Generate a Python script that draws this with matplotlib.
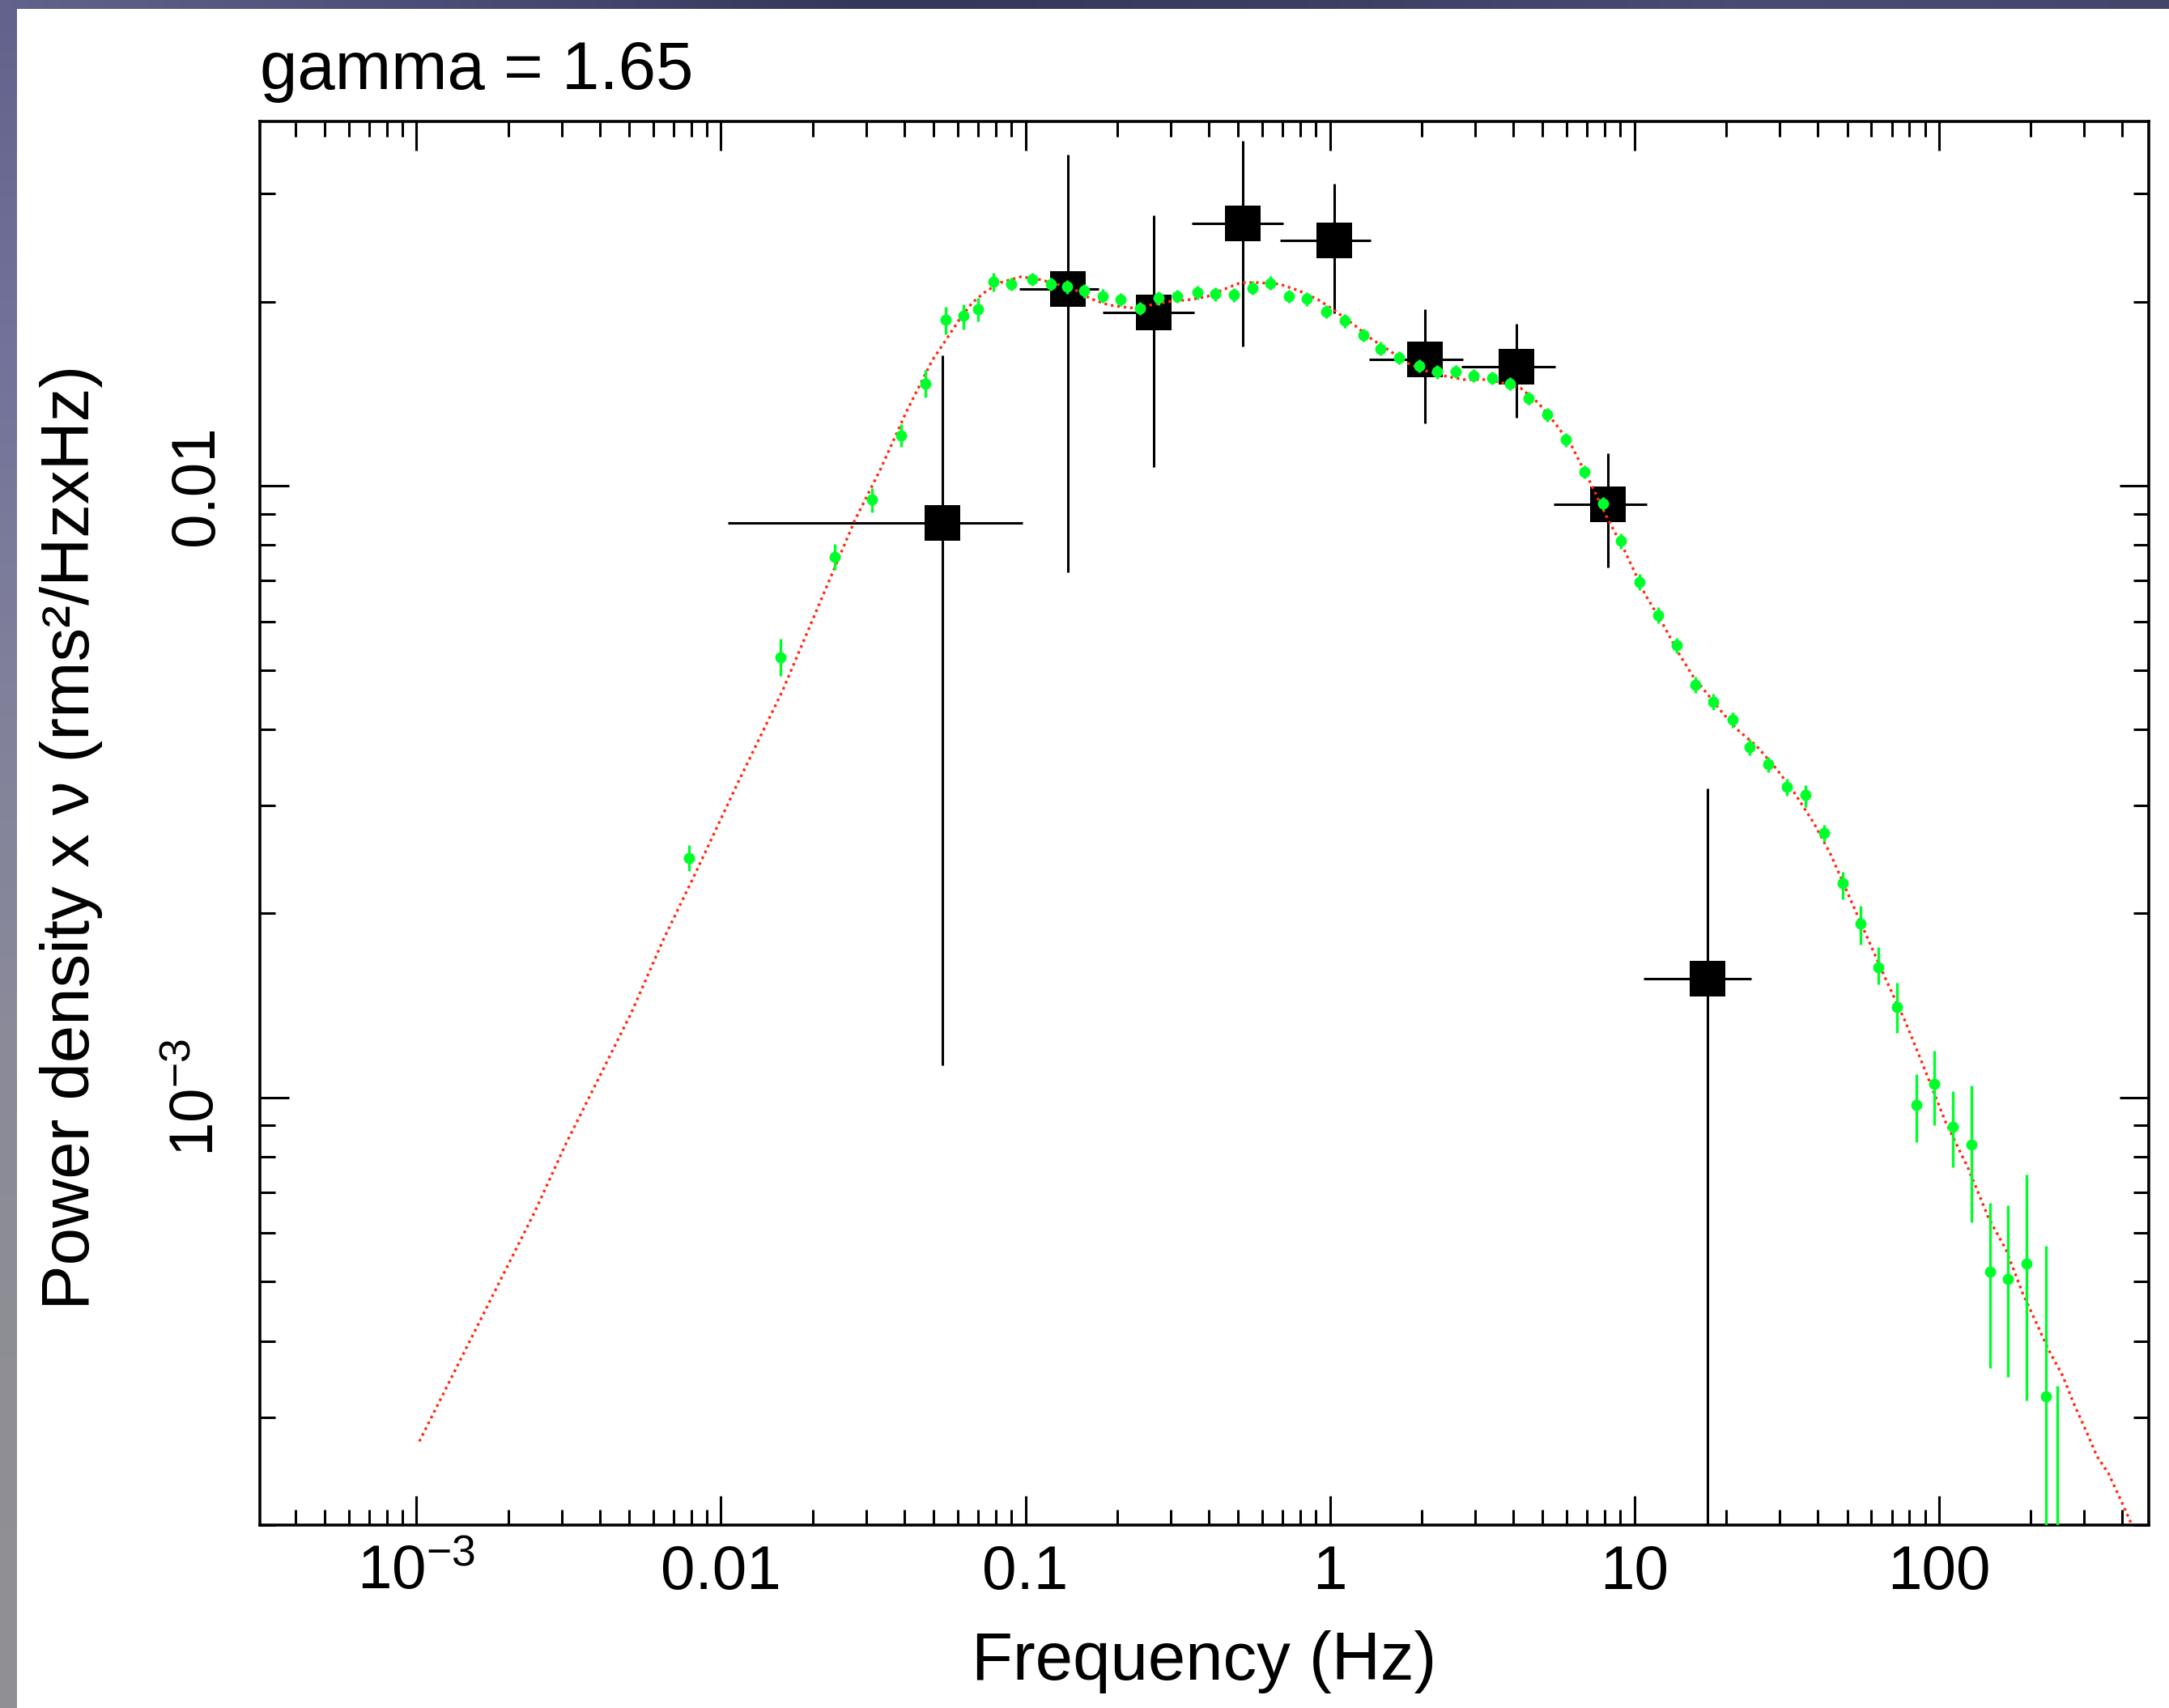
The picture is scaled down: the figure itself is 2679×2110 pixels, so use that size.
import numpy as np
import matplotlib
matplotlib.use("Agg")
import matplotlib.pyplot as plt
from matplotlib.colors import LinearSegmentedColormap
from matplotlib.ticker import NullFormatter

plt.rcParams['font.family'] = ['Liberation Sans', 'DejaVu Sans']
plt.rcParams['mathtext.default'] = 'regular'

# --- data ---
# green points (power density x nu) with error bars
green_f = [0.00787, 0.01566, 0.0236, 0.03136, 0.03915, 0.04702, 0.05477, 0.06264, 0.07007, 0.07836,
           0.08985, 0.1055, 0.1213, 0.1372, 0.1561, 0.1793, 0.2057, 0.2379, 0.2738, 0.315,
           0.3671, 0.4207, 0.4824, 0.5553, 0.6389, 0.7355, 0.8397, 0.9705, 1.117, 1.285,
           1.468, 1.689, 1.96, 2.246, 2.585, 2.965, 3.411, 3.909, 4.5, 5.182,
           5.962, 6.834, 7.868, 9.022, 10.39, 11.96, 13.74, 15.82, 18.16, 20.96,
           23.88, 27.5, 31.65, 36.44, 41.95, 48.31, 55.26, 63.42, 73.04, 84.3,
           96.6, 111.2, 127.8, 147.0, 169.0, 194.5, 224.5, 244.6]
green_p = [0.002462, 0.005248, 0.00766, 0.00949, 0.01209, 0.01468, 0.01868, 0.01897, 0.01945, 0.02158,
           0.02135, 0.02175, 0.02135, 0.02115, 0.02082, 0.02043, 0.02018, 0.0195, 0.02026, 0.02042,
           0.02069, 0.02057, 0.0205, 0.02106, 0.02145, 0.02042, 0.02019, 0.01925, 0.01861, 0.01762,
           0.01676, 0.01618, 0.01571, 0.01535, 0.01537, 0.01514, 0.015, 0.01468, 0.0139, 0.01307,
           0.01188, 0.01054, 0.00935, 0.008122, 0.006956, 0.006144, 0.005483, 0.004732, 0.004437, 0.004143,
           0.003737, 0.003504, 0.003217, 0.003127, 0.002704, 0.002242, 0.001923, 0.001633, 0.001404, 0.000972,
           0.001051, 0.000896, 0.000837, 0.000519, 0.000505, 0.000535, 0.000325, 0.00015]
green_lo = [0.002346, 0.004893, 0.00728, 0.009051, 0.01159, 0.01392, 0.01766, 0.018, 0.01856, 0.02076,
            0.02082, 0.02121, 0.02082, 0.02062, 0.0203, 0.01992, 0.01968, 0.01901, 0.01975, 0.01991,
            0.02017, 0.02006, 0.01999, 0.02053, 0.02091, 0.01991, 0.01969, 0.01877, 0.01814, 0.01718,
            0.01634, 0.01578, 0.01532, 0.01497, 0.01499, 0.01476, 0.01463, 0.01431, 0.01355, 0.01274,
            0.01158, 0.01028, 0.00912, 0.007878, 0.006747, 0.00596, 0.005319, 0.00459, 0.004304, 0.004019,
            0.003625, 0.003399, 0.003112, 0.002981, 0.002618, 0.002111, 0.001778, 0.001529, 0.001276, 0.000844,
            0.000902, 0.000769, 0.000625, 0.000361, 0.000349, 0.00032, 0.00001, 0.00001]
green_hi = [0.002586, 0.005627, 0.008019, 0.009921, 0.01259, 0.01545, 0.0196, 0.01981, 0.02028, 0.0223,
            0.02188, 0.02229, 0.02188, 0.02168, 0.02134, 0.02094, 0.02068, 0.01999, 0.02077, 0.02093,
            0.02121, 0.02108, 0.02101, 0.02159, 0.02199, 0.02093, 0.02069, 0.01973, 0.01908, 0.01806,
            0.01718, 0.01658, 0.0161, 0.01573, 0.01575, 0.01552, 0.01538, 0.01505, 0.01425, 0.0134,
            0.01218, 0.0108, 0.00958, 0.008366, 0.007165, 0.006328, 0.005647, 0.004874, 0.00457, 0.004267,
            0.003849, 0.003609, 0.003317, 0.00324, 0.002789, 0.00234, 0.002058, 0.001762, 0.00154, 0.001092,
            0.001192, 0.001024, 0.001046, 0.000672, 0.000666, 0.000748, 0.000572, 0.000338]

# black squares
sq_f = [0.0533, 0.1382, 0.2637, 0.5173, 1.035, 2.053, 4.096, 8.17, 17.41]
sq_p = [0.00869, 0.02094, 0.01919, 0.02685, 0.02514, 0.01609, 0.01565, 0.00933, 0.001565]
sq_flo = [0.01051, 0.0954, 0.179, 0.3515, 0.6855, 1.341, 2.698, 5.42, 10.71]
sq_fhi = [0.0977, 0.174, 0.358, 0.702, 1.361, 2.731, 5.492, 10.97, 24.17]
sq_plo = [0.00113, 0.00721, 0.01072, 0.01689, 0.01914, 0.01263, 0.0129, 0.00736, 0.00001]
sq_phi = [0.01633, 0.0348, 0.02766, 0.0366, 0.03114, 0.01943, 0.01839, 0.01131, 0.0032]

# red dotted model
model_f = [0.001022, 0.002438, 0.003096, 0.00393, 0.005093, 0.006454, 0.0082, 0.01132, 0.01592, 0.02751,
           0.0335, 0.04067, 0.04952, 0.05495, 0.06077, 0.06687, 0.07421, 0.08277, 0.09674, 0.1118,
           0.143, 0.1639, 0.1879, 0.2214, 0.2572, 0.3007, 0.3448, 0.3951, 0.4532, 0.5093,
           0.5839, 0.683, 0.7937, 0.9155, 1.035, 1.206, 1.377, 1.573, 1.778, 2.072,
           2.415, 2.756, 3.212, 3.631, 4.231, 4.832, 5.462, 6.173, 7.164, 8.017,
           9.303, 10.84, 12.33, 14.05, 15.65, 17.4, 19.01, 21.61, 25.19, 29.28,
           33.38, 38.81, 44.14, 51.44, 66.48, 77.37, 88.22, 104.9, 125.1, 145.7,
           166.1, 188.3, 209.9, 229.1, 254.9, 278.1, 303.6, 330.7, 360.4, 393.6, 428.8]
model_p = [0.000274, 0.000648, 0.00084, 0.001065, 0.00138, 0.001807, 0.002313, 0.003256, 0.004619, 0.008777,
           0.01067, 0.01322, 0.01606, 0.01734, 0.01871, 0.01991, 0.02079, 0.02148, 0.02196, 0.02172,
           0.02102, 0.02021, 0.01974, 0.01953, 0.01974, 0.02002, 0.02014, 0.02038, 0.02098, 0.02148,
           0.02148, 0.02136, 0.02082, 0.02014, 0.01935, 0.01829, 0.01734, 0.01662, 0.0159, 0.0154,
           0.01509, 0.01491, 0.01491, 0.01476, 0.01444, 0.01366, 0.01269, 0.0117, 0.01012, 0.008996,
           0.007815, 0.006645, 0.005973, 0.005302, 0.004862, 0.004561, 0.004314, 0.004007, 0.003755, 0.003444,
           0.003159, 0.002811, 0.002495, 0.002098, 0.001572, 0.001335, 0.001137, 0.000915, 0.000764, 0.000635,
           0.000564, 0.000479, 0.000426, 0.000387, 0.000351, 0.000315, 0.000286, 0.000259, 0.000243, 0.000221, 0.000201]

W, H = 2679, 2110
fig = plt.figure(figsize=(W / 100, H / 100), dpi=100)

# blue-grey slide border (left and top strips)
left_cm = LinearSegmentedColormap.from_list('l', ['#62628c', '#72729a', '#80809a', '#8a8a9a', '#8e8e94', '#909094'])
top_cm = LinearSegmentedColormap.from_list('t', ['#62628c', '#4c4c78', '#36365a', '#3e3e64', '#4a4a74', '#45456c'])
sl = fig.add_axes([0, 0, 21 / W, 1])
sl.imshow(np.linspace(0, 1, 200)[:, None], cmap=left_cm, aspect='auto')
sl.axis('off')
st = fig.add_axes([0, 1 - 11 / H, 1, 11 / H])
st.imshow(np.linspace(0, 1, 400)[None, :], cmap=top_cm, aspect='auto')
st.axis('off')

ax = fig.add_axes([321 / W, (H - 1884) / H, 2333 / W, 1734 / H])
ax.set_xscale('log')
ax.set_yscale('log')

sq_f_a = np.array(sq_f)
sq_p_a = np.array(sq_p)
ax.errorbar(sq_f, sq_p,
            xerr=[sq_f_a - np.array(sq_flo), np.array(sq_fhi) - sq_f_a],
            yerr=[sq_p_a - np.array(sq_plo), np.array(sq_phi) - sq_p_a],
            fmt='s', color='black', ms=31, mew=0, elinewidth=2.2, capsize=0, zorder=2)

ax.plot(model_f, model_p, color='#ff2d14', lw=2.4, ls=(0, (1, 1.4)), zorder=3)

gp = np.array(green_p)
ax.errorbar(green_f, green_p,
            yerr=[gp - np.array(green_lo), np.array(green_hi) - gp],
            fmt='o', color='#00ff2a', ms=10, mew=0, elinewidth=2.4, capsize=0, zorder=4)

ax.set_xlim(3.06e-4, 489)
ax.set_ylim(2.0e-4, 0.0394)

ax.set_xticks([1e-3, 1e-2, 0.1, 1, 10, 100],
              ['$10^{-3}$', '0.01', '0.1', '1', '10', '100'])
ax.set_yticks([1e-3, 1e-2], ['$10^{-3}$', '0.01'])
ax.xaxis.set_minor_formatter(NullFormatter())
ax.yaxis.set_minor_formatter(NullFormatter())

ax.tick_params(which='both', direction='in', top=True, right=True, width=2.2, colors='black')
ax.tick_params(which='major', length=26)
ax.tick_params(which='minor', length=14)
ax.tick_params(axis='x', which='major', labelsize=55, pad=17)
ax.tick_params(axis='y', which='major', labelsize=55, pad=30)
for lab in ax.get_yticklabels():
    lab.set_rotation(90)
    lab.set_verticalalignment('center')
for sp in ax.spines.values():
    sp.set_linewidth(2.6)

ax.set_xlabel('Frequency (Hz)', fontsize=60)
ax.xaxis.set_label_coords(0.5, -0.075)
ax.set_ylabel('Power density x \u03bd (rms\u00b2/HzxHz)', fontsize=60)
ax.yaxis.set_label_coords(-0.083, 0.49)
ax.set_title('gamma = 1.65', loc='left', fontsize=60, pad=29)

fig.savefig('out.png', dpi=100)
